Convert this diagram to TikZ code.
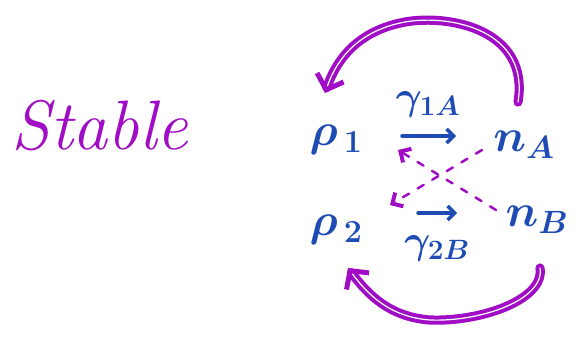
\RequirePackage{fix-cm}
\documentclass[tikz,border=0pt]{standalone}
\usetikzlibrary{arrows.meta}
\definecolor{pen}{HTML}{1E4CB4}
\definecolor{ink}{HTML}{A00DC4}
\begin{document}
\begin{tikzpicture}[x=1pt,y=-1pt,
  sym/.style={text=pen,font=\fontsize{46}{50}\selectfont\boldmath,inner sep=1pt},
  lab/.style={text=pen,font=\fontsize{40}{44}\selectfont\boldmath,inner sep=1pt},
  rate/.style={draw=pen,line width=3.5pt,line cap=round,-{Straight Barb[length=7pt,width=14pt]}},
  loop/.style={draw=ink,line width=4pt,double=white,double distance=1.2pt,line cap=round,-{Straight Barb[length=13pt,width=28pt,line width=5pt]}},
  cross/.style={draw=ink,line width=2.5pt,dash pattern=on 7pt off 10pt,line cap=round,-{Straight Barb[length=8pt,width=16pt,line width=4pt]}}]
\useasboundingbox (0,0) rectangle (588,343);
\node[text=ink,font=\fontsize{70}{72}\selectfont\itshape] (title) at (100,126) {Stable};
\node[sym] (rho1) at (336,140) {$\rho_{\,1}$};
\node[sym] (rho2) at (336,230) {$\rho_{\,2}$};
\node[sym] (nA) at (524,145) {$n_{A}$};
\node[sym] (nB) at (537,220) {$n_{B}$};
\coordinate (a1s) at (402,136);
\coordinate (a1e) at (456,136);
\coordinate (a2s) at (418,213);
\coordinate (a2e) at (457,213);
\draw[rate] (a1s) -- (a1e);
\draw[rate] (a2s) -- (a2e);
\node[lab] (g1) at (428,104) {$\gamma_{1A}$};
\node[lab] (g2) at (437,248) {$\gamma_{2B}$};
\coordinate (t1) at (518,102);
\coordinate (t2) at (325,93);
\draw[loop] (t1) .. controls (530,30) and (450,14) .. (405,22) .. controls (362,30) and (338,55) .. (t2);
\coordinate (b1) at (540,268);
\coordinate (b2) at (348,268);
\draw[loop] (b1) .. controls (545,300) and (480,322) .. (430,320) .. controls (390,317) and (368,295) .. (b2);
\coordinate (c1) at (482,150);
\coordinate (c2) at (390,205);
\coordinate (d1) at (496,210);
\coordinate (d2) at (398,150);
\draw[cross] (c1) -- (c2);
\draw[cross] (d1) -- (d2);
\end{tikzpicture}
\end{document}
